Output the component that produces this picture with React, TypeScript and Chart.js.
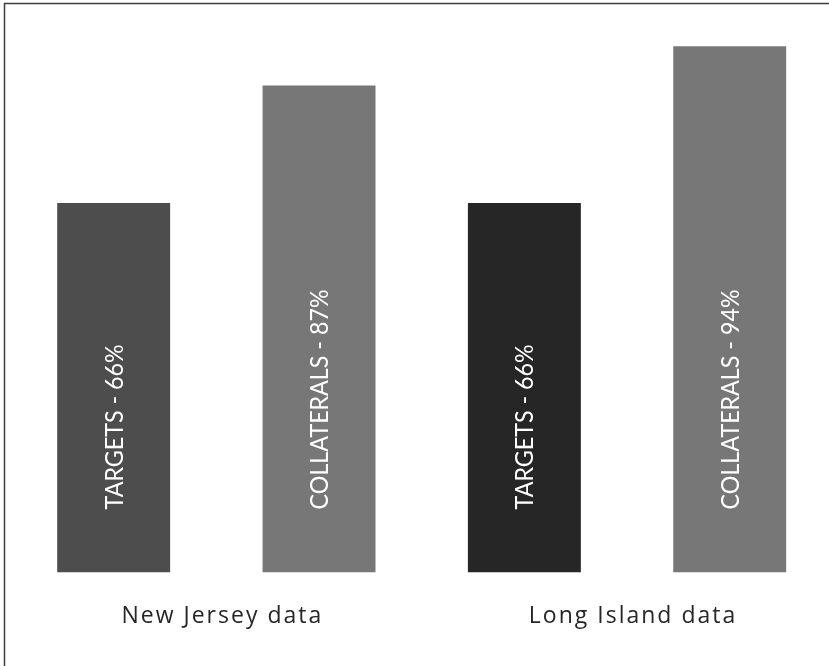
import React, { useEffect, useRef } from "react";
import { Chart, registerables } from "chart.js";

Chart.register(...registerables);

// Regions on the x axis
const regions = ["New Jersey data", "Long Island data"];

// Share of cases per region, in percent
const targetValues = [66, 66];
const collateralValues = [87, 94];

const targetName = "TARGETS";
const collateralName = "COLLATERALS";

const targetColors = ["#4d4d4d", "#262626"];
const collateralColors = ["#777777", "#777777"];

const CANVAS_W = 840;
const CANVAS_H = 666;

// Writes "NAME - value%" upward inside every bar
const barLabelPlugin = {
  id: "barLabels",
  afterDatasetsDraw(chart: any) {
    const ctx = chart.ctx as CanvasRenderingContext2D;
    chart.data.datasets.forEach((ds: any, di: number) => {
      const meta = chart.getDatasetMeta(di);
      meta.data.forEach((bar: any, i: number) => {
        const text = `${ds.label} - ${ds.data[i]}%`;
        ctx.save();
        ctx.translate(bar.x + 1, bar.base - 63);
        ctx.rotate(-Math.PI / 2);
        ctx.font = "25px Lato";
        ctx.fillStyle = "#ffffff";
        ctx.textAlign = "left";
        ctx.textBaseline = "middle";
        const w = ctx.measureText(text).width;
        ctx.fillText(text, 0, 0, w * 0.93);
        ctx.restore();
      });
    });
  },
};

// Thin frame along the top and left edges; loose tracking for the axis labels
const framePlugin = {
  id: "frame",
  beforeDraw(chart: any) {
    const ctx = chart.ctx as any;
    ctx.save();
    ctx.strokeStyle = "#3d3d3d";
    ctx.lineWidth = 1.5;
    ctx.beginPath();
    ctx.moveTo(4.5, chart.height);
    ctx.lineTo(4.5, 3.5);
    ctx.lineTo(chart.width, 3.5);
    ctx.stroke();
    ctx.restore();
    ctx.letterSpacing = "2px";
  },
  beforeDatasetsDraw(chart: any) {
    (chart.ctx as any).letterSpacing = "0px";
  },
};

export default function App() {
  const canvasRef = useRef<HTMLCanvasElement | null>(null);

  useEffect(() => {
    if (!canvasRef.current) return;
    const chart = new Chart(canvasRef.current, {
      type: "bar",
      data: {
        labels: regions,
        datasets: [
          {
            label: targetName,
            data: targetValues,
            backgroundColor: targetColors,
            categoryPercentage: 1,
            barPercentage: 0.55,
          },
          {
            label: collateralName,
            data: collateralValues,
            backgroundColor: collateralColors,
            categoryPercentage: 1,
            barPercentage: 0.55,
          },
        ],
      },
      options: {
        responsive: false,
        animation: false,
        layout: { padding: { left: 11, right: 7.6, top: 12.7, bottom: 6 } },
        plugins: {
          legend: { display: false },
          tooltip: { enabled: false },
        },
        scales: {
          y: { display: false, min: 0, max: 100 },
          x: {
            grid: { display: false, drawTicks: false },
            border: { display: false },
            ticks: {
              color: "#262626",
              font: { family: "Open Sans", size: 23 },
              padding: 30,
              labelOffset: 6,
            },
          },
        },
      },
      plugins: [barLabelPlugin, framePlugin],
    });
    return () => chart.destroy();
  }, []);

  return (
    <div
      style={{
        position: "fixed",
        left: 0,
        top: 0,
        width: 829,
        height: 666,
        overflow: "hidden",
        background: "#ffffff",
      }}
    >
      <canvas ref={canvasRef} width={CANVAS_W} height={CANVAS_H} />
    </div>
  );
}
